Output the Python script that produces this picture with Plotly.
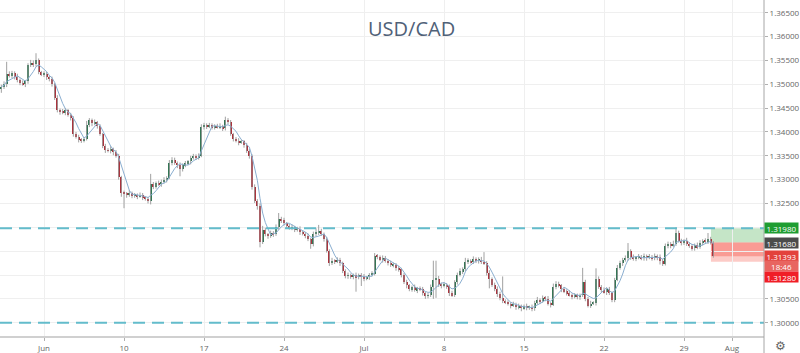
import plotly.graph_objects as go
import pandas as pd

# ---- data (4H candles, prices as pips above 1.30000) ----
start_index = -16   # candle index; 0 = Jun 3 00:00, 30 candles per week
first_open = 490
closes = [
    495,500,522,518,524,516,508,503,500,506,
    540,545,542,550,525,520,522,515,510,500,
    472,445,442,440,445,436,430,395,390,384,
    382,385,415,424,418,420,412,395,370,362,
    360,364,357,350,305,272,270,268,272,266,
    268,265,268,262,260,256,290,285,292,290,
    296,300,304,335,342,335,330,322,330,334,
    338,345,350,346,350,410,415,412,414,410,
    413,410,412,408,425,420,395,385,382,378,
    380,372,360,350,284,255,245,170,195,185,
    182,188,185,200,218,215,208,203,198,200,
    195,197,190,186,182,175,165,185,190,193,
    186,175,150,125,130,128,132,125,108,98,
    100,96,99,95,100,97,93,95,100,103,
    140,138,132,136,130,125,120,122,115,112,
    100,85,78,70,74,68,72,70,62,56,
    58,75,90,92,80,78,80,76,62,58,
    85,100,108,112,128,130,127,133,130,132,
    128,125,105,92,80,70,60,52,45,42,
    40,36,38,32,35,30,34,31,33,30,
    42,48,45,52,50,40,38,75,82,78,
    70,66,62,58,55,57,54,58,85,50,
    36,40,42,92,75,68,64,70,62,48,
    90,115,125,132,135,150,138,134,136,138,
    135,140,136,138,135,140,137,130,124,160,
    165,162,166,188,172,168,172,165,160,156,
    162,158,168,172,170,176,168,139.3,
]
upper_wicks = [
    4,6,25,5,4,3,6,4,5,3,
    4,6,5,15,4,3,5,4,3,6,
    3,5,4,6,5,3,4,3,5,4,
    3,4,8,5,4,6,3,4,3,5,
    4,6,3,5,4,3,5,4,6,3,
    4,3,5,4,3,4,22,5,4,6,
    4,5,3,6,5,4,3,6,4,5,
    3,5,4,3,5,6,4,3,5,4,
    3,4,6,3,7,4,5,3,4,5,
    4,3,5,4,3,6,4,5,8,4,
    3,5,4,6,12,4,5,3,4,6,
    3,4,5,3,4,5,3,6,8,12,
    4,3,5,4,6,3,5,4,3,4,
    5,3,4,6,3,4,5,3,4,5,
    6,4,3,5,4,3,5,4,3,4,
    3,4,5,3,4,6,3,4,5,3,
    4,5,40,38,6,4,5,3,4,5,
    4,5,6,4,8,5,3,6,4,5,
    6,20,4,5,3,4,6,5,45,4,
    5,3,6,4,5,3,4,6,3,5,
    4,6,3,5,4,6,3,7,5,4,
    3,5,4,6,3,5,4,3,30,5,
    4,6,3,22,5,4,6,3,5,4,
    4,6,5,4,6,17,4,5,3,6,
    4,5,3,6,4,5,3,6,4,6,
    5,4,6,12,5,4,3,6,4,5,
    4,6,5,3,5,12,4,3,
]
lower_wicks = [
    8,5,6,4,5,6,4,5,3,6,
    5,4,6,5,4,3,5,6,4,5,
    5,4,6,3,5,4,6,5,4,6,
    5,4,3,5,6,4,5,3,4,6,
    3,5,6,4,5,8,30,6,4,5,
    4,6,3,5,4,6,8,5,4,3,
    5,4,6,3,5,4,6,15,5,4,
    4,6,3,5,4,3,5,6,4,5,
    5,3,4,6,5,4,3,5,4,6,
    3,5,4,6,5,4,8,12,5,4,
    6,4,5,3,5,6,4,5,3,4,
    5,4,6,3,5,4,10,5,4,6,
    4,5,3,6,4,5,3,6,4,5,
    6,4,5,30,4,20,6,4,5,3,
    4,5,3,6,4,5,3,4,6,5,
    5,4,6,4,5,3,6,4,5,6,
    5,4,25,38,5,6,4,5,6,4,
    4,5,3,6,4,5,3,4,5,6,
    5,4,6,20,5,4,6,5,4,3,
    4,6,3,5,4,6,3,5,4,6,
    5,4,6,3,5,4,6,3,5,4,
    6,4,5,3,6,4,5,6,4,5,
    4,5,3,6,4,5,3,6,4,5,
    5,3,4,6,4,5,6,4,5,3,
    4,5,6,3,5,4,6,8,5,4,
    4,6,3,5,4,6,5,4,3,5,
    5,4,3,6,4,5,4,3,
]
assert len(closes) == len(upper_wicks) == len(lower_wicks), (len(closes), len(upper_wicks), len(lower_wicks))

tick_positions = [0, 30, 60, 90, 120, 150, 180, 210, 240, 258]
tick_labels = ["Jun", "10", "17", "24", "Jul", "8", "15", "22", "29", "Aug"]
y_ticks = [1.300, 1.305, 1.310, 1.315, 1.320, 1.325, 1.330, 1.335, 1.340, 1.345, 1.350, 1.355, 1.360, 1.365]
# tick labels hidden behind the price tags on the right scale
hidden_ticks = [1.310, 1.315, 1.320]

target_level = 1.3198
support_level = 1.3000
entry_price = 1.3168
stop_price = 1.3128
last_price = 1.31393
countdown = "18:46"

# ---- derived OHLC ----
base = 1.30
pip = 0.0001
n = len(closes)
idx = list(range(start_index, start_index + n))
c = [base + v * pip for v in closes]
o = [base + first_open * pip] + c[:-1]
h = [max(oo, cc) + u * pip for oo, cc, u in zip(o, c, upper_wicks)]
l = [min(oo, cc) - d * pip for oo, cc, d in zip(o, c, lower_wicks)]

UP = "#1f6e46"
DOWN = "#ad1f2b"
colors = [UP if cc >= oo else DOWN for oo, cc in zip(o, c)]
body_base = [min(oo, cc) for oo, cc in zip(o, c)]
body_h = [max(abs(cc - oo), 0.00003) for oo, cc in zip(o, c)]

wx, wy = [], []
for i, hi, lo in zip(idx, h, l):
    wx += [i, i, None]
    wy += [lo, hi, None]

ma = pd.Series(c).rolling(5, min_periods=1).mean().tolist()

fig = go.Figure()
fig.add_trace(go.Scatter(x=wx, y=wy, mode="lines", line=dict(color="#a0a0a0", width=1),
                         hoverinfo="skip", showlegend=False))
fig.add_trace(go.Bar(x=idx, y=body_h, base=body_base, width=0.85,
                     marker=dict(color=colors, line=dict(width=0)), showlegend=False))
fig.add_trace(go.Scatter(x=idx, y=ma, mode="lines", line=dict(color="#8aaed0", width=1),
                         hoverinfo="skip", showlegend=False))

x_lo, x_hi = -16.5, 270
y_lo, y_hi = 1.29721, 1.36766

shapes = []
box_x0 = 250.1
shapes.append(dict(type="rect", xref="x", yref="y", x0=box_x0, x1=x_hi, y0=entry_price, y1=target_level,
                   fillcolor="rgba(76,175,80,0.32)", line=dict(width=0), layer="below"))
shapes.append(dict(type="rect", xref="x", yref="y", x0=box_x0, x1=x_hi, y0=stop_price, y1=entry_price,
                   fillcolor="rgba(244,67,54,0.28)", line=dict(width=0), layer="below"))
shapes.append(dict(type="rect", xref="x", yref="y", x0=box_x0, x1=x_hi, y0=last_price, y1=entry_price,
                   fillcolor="rgba(244,67,54,0.35)", line=dict(width=0), layer="below"))
for lvl in (target_level, support_level):
    shapes.append(dict(type="line", xref="paper", yref="y", x0=0, x1=1, y0=lvl, y1=lvl,
                       line=dict(color="#63bccb", width=2, dash="12px,7px")))
shapes.append(dict(type="line", xref="paper", yref="paper", x0=1, x1=1, y0=-0.06, y1=1,
                   line=dict(color="#a6a6a6", width=1)))

annotations = [
    dict(text="USD/CAD", xref="paper", yref="paper", x=411 / 764, y=1 - 28 / 336,
         xanchor="center", yanchor="middle",
         showarrow=False, font=dict(family="Open Sans", size=20, color="#506178")),
]

def price_label(text, yval, bg):
    return dict(text=text, xref="paper", yref="y", x=1.0, y=yval, xanchor="left", yanchor="middle",
                showarrow=False, bgcolor=bg, width=32, height=9, borderpad=0.5, align="center",
                font=dict(family="Open Sans", size=8, color="white"))

annotations += [
    price_label("1.31980", target_level, "#1f9d32"),
    price_label("1.31680", entry_price, "#4b4b4b"),
    price_label("1.31393", last_price, "#e3423c"),
    price_label(countdown, 1.31185, "#e86560"),
    price_label("1.31280", 1.30965, "#f01e26"),
    dict(text="⚙", xref="paper", yref="paper", x=780 / 764, y=-0.028, showarrow=False,
         font=dict(size=12, color="#666666"), xanchor="center", yanchor="middle"),
]

fig.update_layout(
    width=800, height=353,
    margin=dict(l=0, r=36, t=0, b=17),
    paper_bgcolor="white", plot_bgcolor="white",
    showlegend=False, bargap=0,
    shapes=shapes, annotations=annotations,
    xaxis=dict(range=[x_lo, x_hi], tickmode="array", tickvals=tick_positions, ticktext=tick_labels,
               showgrid=True, gridcolor="#efefef", gridwidth=1, zeroline=False,
               showline=True, linecolor="#d0d0d0", linewidth=2,
               ticks="outside", ticklen=3, tickcolor="#b0b0b0",
               tickfont=dict(family="Open Sans", size=8, color="#666666")),
    yaxis=dict(range=[y_lo, y_hi], side="right", tickmode="array", tickvals=y_ticks,
               ticktext=["" if any(abs(v - t) < 1e-9 for t in hidden_ticks) else f"{v:.5f}" for v in y_ticks],
               showgrid=True, gridcolor="#efefef", gridwidth=1, zeroline=False,
               showline=False, ticks="outside", ticklen=3, tickcolor="#b0b0b0",
               tickfont=dict(family="Open Sans", size=8, color="#666666")),
)

fig.write_html("out.html")
